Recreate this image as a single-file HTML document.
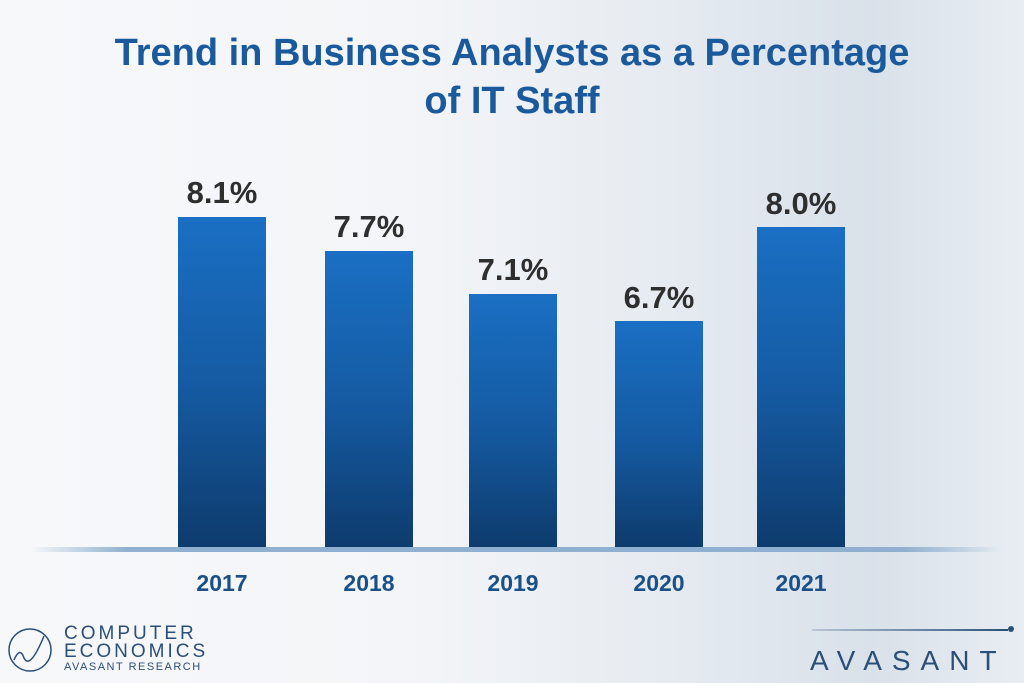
<!DOCTYPE html>
<html><head><style>
body{margin:0;width:1024px;height:683px;overflow:hidden;font-family:"Liberation Sans",sans-serif;}
.bg{position:absolute;left:0;top:0;width:1024px;height:683px;background:linear-gradient(90deg,#f7f8fa 0%,#f3f5f8 40%,#e6ebf1 65%,#d9e1ea 85%,#e8edf2 100%);}
.t{position:absolute;left:0;width:1024px;text-align:center;color:#1a5a9c;font-weight:bold;font-size:38px;}
.bar{position:absolute;width:88px;background:linear-gradient(180deg,#1a6fc4 0%,#155ba3 50%,#0e3b6d 100%);bottom:135px;}
.v{position:absolute;width:140px;text-align:center;font-weight:bold;font-size:31px;color:#2e2e2e;}
.y{position:absolute;top:570px;width:120px;text-align:center;font-weight:bold;font-size:23px;color:#1a4f87;}
</style></head><body>
<div class="bg"></div>
<div class="t" style="top:32px">Trend in Business Analysts as a Percentage</div>
<div class="t" style="top:80px">of IT Staff</div>
<div class="bar" style="left:178px;top:217px"></div>
<div class="bar" style="left:325px;top:251px"></div>
<div class="bar" style="left:469px;top:294px"></div>
<div class="bar" style="left:615px;top:321px"></div>
<div class="bar" style="left:757px;top:227px"></div>
<div style="position:absolute;left:30px;top:547px;width:970px;height:5px;background:linear-gradient(90deg,rgba(120,160,200,0),#8fb0d0 10%,#8fb0d0 90%,rgba(120,160,200,0));"></div>
<div class="v" style="left:152px;top:175px">8.1%</div>
<div class="v" style="left:299px;top:209px">7.7%</div>
<div class="v" style="left:443px;top:252px">7.1%</div>
<div class="v" style="left:589px;top:280px">6.7%</div>
<div class="v" style="left:731px;top:186px">8.0%</div>
<div class="y" style="left:162px">2017</div>
<div class="y" style="left:309px">2018</div>
<div class="y" style="left:453px">2019</div>
<div class="y" style="left:599px">2020</div>
<div class="y" style="left:741px">2021</div>
<svg style="position:absolute;left:6px;top:626px" width="50" height="50"><circle cx="24" cy="24" r="21" fill="none" stroke="#2c4f78" stroke-width="1.5"/><path d="M8 34 Q14 20 18 32 Q24 44 38 10" fill="none" stroke="#2c4f78" stroke-width="1.5"/></svg>
<div style="position:absolute;left:64px;top:625px;color:#2c4f78;font-size:19px;letter-spacing:3px;line-height:18px">COMPUTER<br>ECONOMICS</div>
<div style="position:absolute;left:64px;top:661px;color:#2c4f78;font-size:11px;letter-spacing:1.5px">AVASANT RESEARCH</div>
<div style="position:absolute;left:812px;top:629px;width:196px;height:2px;background:linear-gradient(90deg,rgba(40,80,130,0.2),#2c4f78)"></div>
<div style="position:absolute;left:1008px;top:626px;width:6px;height:6px;border-radius:50%;background:#2c4f78"></div>
<div style="position:absolute;left:810px;top:645px;color:#2c4f78;font-size:28px;letter-spacing:10px;white-space:nowrap">AVASANT</div>
</body></html>
